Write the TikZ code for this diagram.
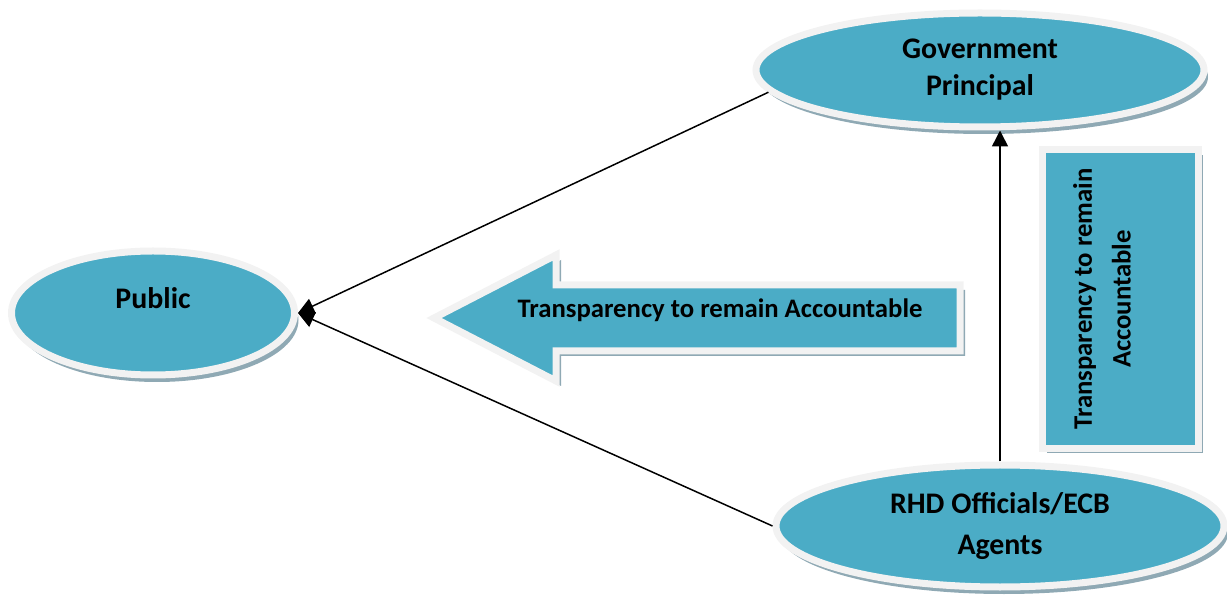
\documentclass[tikz,border=0pt]{standalone}
\usepackage{fontspec}
\setmainfont{Carlito}
\usetikzlibrary{shapes.geometric,shadows,arrows.meta}
\definecolor{tealfill}{HTML}{4BACC6}
\definecolor{rimgrey}{HTML}{F2F2F2}
\definecolor{shadegrey}{HTML}{8FA9B4}
\begin{document}
\begin{tikzpicture}[x=.2mm,y=-.2mm,
  bubble/.style={ellipse,fill=tealfill,draw=rimgrey,line width=1.4mm,inner sep=0pt,
    drop shadow={fill=shadegrey,opacity=1,shadow xshift=.8mm,shadow yshift=-1.4mm},
    font=\fontsize{17}{21}\selectfont\bfseries,align=center},
  panel/.style={fill=tealfill,draw=rimgrey,line width=1.4mm,inner sep=0pt,
    drop shadow={fill=shadegrey,opacity=1,shadow xshift=1mm,shadow yshift=-1mm}},
  lbl/.style={font=\fontsize{15.2}{22}\selectfont\bfseries,align=center},
  conn/.style={-{Triangle[length=3.2mm,width=3.2mm]},line width=.3mm}]
\useasboundingbox (0,0) rectangle (1227,596);
% the three parties
\node[bubble,minimum width=56.6mm,minimum height=24.8mm] (public) at (153,313) {};
\node[lbl,font=\fontsize{17}{21}\selectfont\bfseries] (publictext) at ([yshift=3mm]public.center) {Public};
\node[bubble,minimum width=89.6mm,minimum height=22.8mm] (gov) at (980,70) {Government\\Principal};
\node[bubble,minimum width=89.6mm,minimum height=24.4mm] (rhd) at (1000,526) {RHD Officials/ECB\\[1mm]Agents};
% big arrow and side box
\draw[panel] (960,285) -- (556,285) -- (556,255) -- (434,318) -- (556,381) -- (556,351) -- (960,351) -- cycle;
\node[lbl] (flowtext) at (720,310) {Transparency to remain Accountable};
\node[panel,minimum width=31.2mm,minimum height=59.6mm] (side) at (1120,299) {};
\node[lbl,rotate=90] (sidetext) at ([xshift=-3.6mm]side.center) {Transparency to remain\\Accountable};
% links
\draw[conn] (gov.186) -- (public.east);
\draw[conn] (rhd.west) -- (public.east);
\draw[conn] (rhd.north) -- (rhd.north |- gov.south);
\end{tikzpicture}
\end{document}
